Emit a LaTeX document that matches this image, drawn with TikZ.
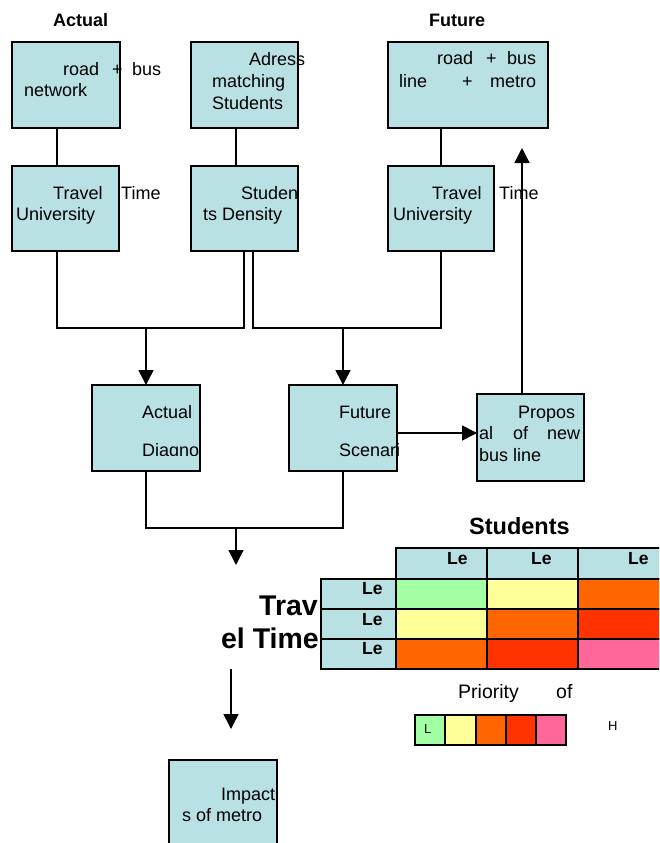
\documentclass[tikz,border=0pt]{standalone}
\usepackage{fontspec}
\setmainfont{Liberation Sans}
\usetikzlibrary{arrows.meta,calc}
\definecolor{boxc}{RGB}{185,224,227}
\definecolor{cgreen}{RGB}{163,255,163}
\definecolor{cyellow}{RGB}{255,255,153}
\definecolor{corange}{RGB}{255,102,0}
\definecolor{cred}{RGB}{255,51,0}
\definecolor{cpink}{RGB}{255,102,153}
\begin{document}
\begin{tikzpicture}[x=1pt,y=-1pt,
  box/.style={draw,line width=1.5pt,fill=boxc,inner sep=0,outer sep=0,anchor=north west},
  txt/.style={anchor=base west,inner sep=0,font=\fontsize{18}{21}\selectfont},
  head/.style={anchor=base west,inner sep=0,font=\bfseries\fontsize{18}{21}\selectfont},
  le/.style={anchor=base west,inner sep=0,font=\bfseries\fontsize{17.5}{20}\selectfont},
  big/.style={anchor=base east,inner sep=0,font=\bfseries\fontsize{28.5}{31}\selectfont},
  small/.style={anchor=base west,inner sep=0,font=\fontsize{13}{15}\selectfont},
  ln/.style={line width=1.5pt},
  arr/.style={line width=1.5pt,-{Triangle[length=15pt,width=15pt]}},
  cell/.style={draw,line width=1.5pt,inner sep=0,outer sep=0,anchor=north west}]
\useasboundingbox (0,0) rectangle (659,843);
\clip (0,0) rectangle (659,843);

% boxes
\node[box,minimum width=108pt,minimum height=86pt] (A1) at (12,42) {};
\node[box,minimum width=107pt,minimum height=86pt] (A2) at (191,42) {};
\node[box,minimum width=160pt,minimum height=86pt] (F1) at (388,42) {};
\node[box,minimum width=107pt,minimum height=85pt] (A3) at (12,166) {};
\node[box,minimum width=107pt,minimum height=85pt] (A4) at (191,166) {};
\node[box,minimum width=106pt,minimum height=85pt] (F2) at (388,166) {};
\node[box,minimum width=108pt,minimum height=86pt] (D1) at (92,385) {};
\node[box,minimum width=108pt,minimum height=86pt] (D2) at (289,385) {};
\node[box,minimum width=107pt,minimum height=87pt] (P) at (477,394) {};
\node[box,minimum width=108pt,minimum height=100pt] (I) at (169,760) {};

% helper coordinates
\coordinate (m1) at (146,328);
\coordinate (m2) at (343,328);
\coordinate (m3) at (236,528);
\coordinate (e3) at (236,565);
\coordinate (e4) at (522,148);
\coordinate (s5) at (231,669);
\coordinate (e5) at (231,729);

% connectors
\draw[ln] ([xshift=45pt]A1.south west) -- ([xshift=45pt]A3.north west);
\draw[ln] ([xshift=45pt]A2.south west) -- ([xshift=45pt]A4.north west);
\draw[ln] ([xshift=53pt]F1.south west) -- ([xshift=53pt]F2.north west);
\draw[ln] ([xshift=45pt]A3.south west) |- (m1) -| ([xshift=53pt]A4.south west);
\draw[arr] (m1) -- (D1.north);
\draw[ln] ([xshift=62pt]A4.south west) |- (m2) -| ([xshift=53pt]F2.south west);
\draw[arr] (m2) -- (D2.north);
\draw[ln] (D1.south) |- (m3) -| (D2.south);
\draw[arr] (m3) -- (e3);
\draw[arr] ([yshift=-5pt]D2.east) -- ([yshift=4.5pt]P.west);
\draw[arr] ([xshift=45pt]P.north west) -- (e4);
\draw[arr] (s5) -- (e5);

% headings
\node[head] (hA) at (53,27) {Actual};
\node[head] (hF) at (429,27) {Future};

% box texts
\node[txt] (t1a) at (63,75) {road};
\node[txt] (t1b) at (112,75) {+};
\node[txt] (t1c) at (132,75) {bus};
\node[txt] (t1d) at (24,96) {network};

\node[txt] (t2a) at (249,66) {Adress};
\node[txt] (t2b) at (212,87) {matching};
\node[txt] (t2c) at (212,109) {Students};

\node[txt] (t3a) at (437,65) {road};
\node[txt] (t3b) at (486,65) {+};
\node[txt] (t3c) at (507,65) {bus};
\node[txt] (t3d) at (399,87) {line};
\node[txt] (t3e) at (462,87) {+};
\node[txt] (t3f) at (490,87) {metro};

\node[txt] (t4a) at (53,199) {Travel};
\node[txt] (t4b) at (121,199) {Time};
\node[txt] (t4c) at (16,220) {University};

\node[txt] (t5a) at (241,199) {Studen};
\node[txt] (t5b) at (203,220) {ts Density};

\node[txt] (t6a) at (432,199) {Travel};
\node[txt] (t6b) at (499,199) {Time};
\node[txt] (t6c) at (393,220) {University};

\node[txt] (t7a) at (142,418) {Actual};
\begin{scope}
\clip (92,385) rectangle (200,455);
\node[txt] (t7b) at (142,456) {Diagno};
\end{scope}
\node[txt] (t8a) at (339,418) {Future};
\node[txt] (t8b) at (339,456) {Scenari};

\node[txt] (t9a) at (518,418) {Propos};
\node[txt] (t9b) at (479,439) {al};
\node[txt] (t9c) at (513,439) {of};
\node[txt] (t9d) at (547,439) {new};
\node[txt] (t9e) at (479,461) {bus line};

\node[txt] (t10a) at (221,800) {Impact};
\node[txt] (t10b) at (182,821) {s of metro};

% matrix
\node[anchor=base west,inner sep=0,font=\bfseries\fontsize{23.5}{26}\selectfont] (stud) at (469,534) {Students};
\node[cell,fill=boxc,minimum width=91pt,minimum height=31pt] (h1) at (396,548) {};
\node[cell,fill=boxc,minimum width=91pt,minimum height=31pt] (h2) at (487,548) {};
\node[cell,fill=boxc,minimum width=95pt,minimum height=31pt] (h3) at (578,548) {};
\node[cell,fill=boxc,minimum width=75pt,minimum height=30pt] (r1) at (321,579) {};
\node[cell,fill=boxc,minimum width=75pt,minimum height=30pt] (r2) at (321,609) {};
\node[cell,fill=boxc,minimum width=75pt,minimum height=30pt] (r3) at (321,639) {};
\node[cell,fill=cgreen,minimum width=91pt,minimum height=30pt] (c11) at (396,579) {};
\node[cell,fill=cyellow,minimum width=91pt,minimum height=30pt] (c12) at (487,579) {};
\node[cell,fill=corange,minimum width=95pt,minimum height=30pt] (c13) at (578,579) {};
\node[cell,fill=cyellow,minimum width=91pt,minimum height=30pt] (c21) at (396,609) {};
\node[cell,fill=corange,minimum width=91pt,minimum height=30pt] (c22) at (487,609) {};
\node[cell,fill=cred,minimum width=95pt,minimum height=30pt] (c23) at (578,609) {};
\node[cell,fill=corange,minimum width=91pt,minimum height=30pt] (c31) at (396,639) {};
\node[cell,fill=cred,minimum width=91pt,minimum height=30pt] (c32) at (487,639) {};
\node[cell,fill=cpink,minimum width=95pt,minimum height=30pt] (c33) at (578,639) {};

\node[le] (l1) at (447,564) {Le};
\node[le] (l2) at (531,564) {Le};
\node[le] (l3) at (628,564) {Le};
\node[le] (l4) at (362,594) {Le};
\node[le] (l5) at (362,625) {Le};
\node[le] (l6) at (362,654) {Le};

\node[big] (tr1) at (318,615) {Trav};
\node[big] (tr2) at (319,648) {el Time};

% legend
\node[anchor=base west,inner sep=0,font=\fontsize{19.5}{22}\selectfont] (pr1) at (458,698) {Priority};
\node[anchor=base west,inner sep=0,font=\fontsize{19.5}{22}\selectfont] (pr2) at (556,698) {of};
\node[cell,fill=cgreen,minimum width=30pt,minimum height=30pt] (g1) at (415,715) {};
\node[cell,fill=cyellow,minimum width=31pt,minimum height=30pt] (g2) at (445,715) {};
\node[cell,fill=corange,minimum width=30pt,minimum height=30pt] (g3) at (476,715) {};
\node[cell,fill=cred,minimum width=30pt,minimum height=30pt] (g4) at (506,715) {};
\node[cell,fill=cpink,minimum width=30pt,minimum height=30pt] (g5) at (536,715) {};
\node[small] (lL) at (424,733) {L};
\node[small] (lH) at (608,730) {H};
\end{tikzpicture}
\end{document}
